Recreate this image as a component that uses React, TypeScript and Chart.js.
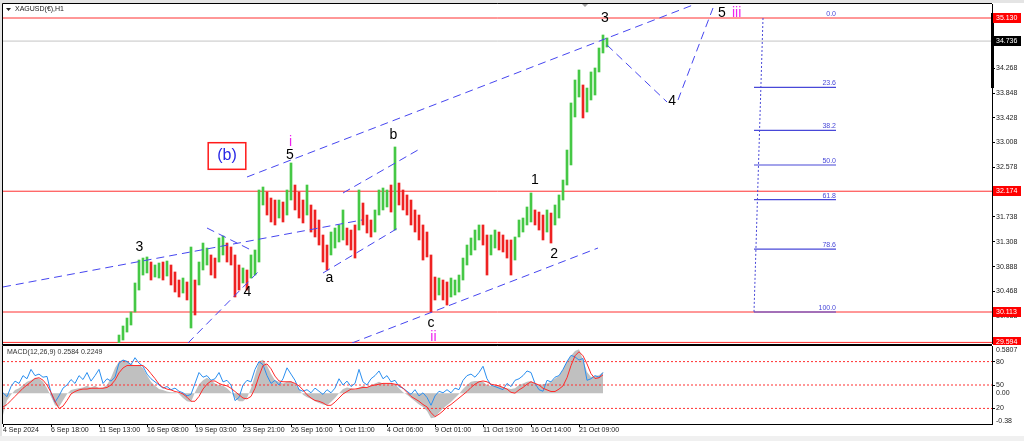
import React, { useEffect, useRef } from 'react';
import { Chart, registerables } from 'chart.js';

Chart.register(...registerables);

const FONT = '"Liberation Sans", Arial, Helvetica, sans-serif';
const UP = '#45c845';
const DOWN = '#ee2222';
const MAGENTA = '#ee22ee';
const WAVE_BLUE = '#4646f0';
const FIB_BLUE = '#4848d8';
const LEVEL_RED = '#ff3030';

const symbolTitle = 'XAGUSD(€),H1';
const macdTitle = 'MACD(12,26,9) 0.2584 0.2249';

// x axis: one slot = a group of hourly bars
const slotMax = 247.25;
const timeSlots = [0, 12, 24, 36, 48, 60, 72, 84, 96, 108, 120, 132, 144];
const timeLabels = [
  '4 Sep 2024', '6 Sep 18:00', '11 Sep 13:00', '16 Sep 08:00', '19 Sep 03:00', '23 Sep 21:00',
  '26 Sep 16:00', '1 Oct 11:00', '4 Oct 06:00', '9 Oct 01:00', '11 Oct 19:00', '16 Oct 14:00', '21 Oct 09:00',
];

// price axis
const priceMin = 29.584;
const priceMax = 35.369;
const priceTicks = [34.688, 34.268, 33.848, 33.428, 33.008, 32.578, 32.158, 31.738, 31.308, 30.888, 30.468, 30.038];
const redLevels = [35.13, 32.174, 30.113, 29.594];
const lastPrice = 34.736;

// candles (high/low per slot)
const firstCandleSlot = 29;
const candleLows = [
  29.50, 29.635, 29.771, 29.891, 30.113, 30.488, 30.744, 30.779, 30.659, 30.710,
  30.693, 30.659, 30.727, 30.574, 30.454, 30.369, 30.437, 30.318, 29.840, 30.062,
  30.574, 30.830, 30.915, 30.744, 30.693, 30.966, 31.086, 30.966, 30.915, 30.369,
  30.488, 30.608, 30.488, 30.693, 30.744, 30.966, 31.939, 31.768, 31.649, 31.598,
  31.717, 31.649, 31.768, 32.024, 31.854, 31.717, 31.632, 31.768, 31.478, 31.393,
  31.256, 30.966, 30.830, 31.086, 31.205, 31.308, 31.342, 31.256, 31.171, 31.034,
  31.512, 31.598, 31.461, 31.393, 31.478, 31.768, 31.854, 31.905, 31.819, 31.512,
  31.939, 31.854, 31.768, 31.598, 31.478, 31.342, 31.000, 31.052, 30.113, 30.318,
  30.403, 30.318, 30.232, 30.369, 30.403, 30.454, 30.659, 30.915, 31.086, 31.171,
  31.342, 31.256, 30.744, 31.086, 31.205, 31.171, 31.137, 31.034, 30.744, 31.000,
  31.393, 31.478, 31.598, 31.649, 31.598, 31.512, 31.342, 31.478, 31.290, 31.598,
  31.717, 32.024, 32.280, 32.622, 33.441, 33.782, 33.424, 33.526, 33.731, 33.816,
  34.209, 34.533, 34.635,
];
const candleHighs = [
  29.720, 29.874, 30.010, 30.113, 30.608, 31.000, 31.034, 31.052, 30.966, 30.915,
  30.949, 30.966, 30.983, 30.915, 30.796, 30.659, 30.693, 30.625, 31.222, 30.659,
  30.966, 31.290, 31.205, 31.086, 31.034, 31.376, 31.410, 31.290, 31.222, 31.086,
  30.915, 30.864, 30.830, 31.086, 31.171, 32.195, 32.246, 32.161, 32.058, 32.024,
  32.024, 31.990, 32.195, 32.656, 32.280, 32.161, 32.024, 32.280, 31.939, 31.854,
  31.683, 31.427, 31.256, 31.478, 31.546, 31.598, 31.854, 31.546, 31.512, 31.598,
  32.195, 31.973, 31.768, 31.683, 31.854, 32.195, 32.229, 32.195, 32.280, 32.929,
  32.314, 32.195, 32.110, 32.024, 31.854, 31.768, 31.598, 31.478, 31.086, 30.710,
  30.693, 30.659, 30.625, 30.693, 30.659, 30.744, 31.034, 31.256, 31.376, 31.512,
  31.598, 31.598, 31.427, 31.427, 31.512, 31.478, 31.427, 31.342, 31.342, 31.393,
  31.683, 31.717, 31.905, 32.144, 31.854, 31.819, 31.768, 31.854, 31.802, 31.939,
  32.110, 32.365, 32.877, 33.680, 34.072, 34.243, 33.987, 33.935, 34.209, 34.277,
  34.618, 34.840, 34.789,
];

// wave trend lines: [slotA, priceA, slotB, priceB]
const trendLines = [
  [0, 30.54, 89.75, 31.683],
  [61, 32.417, 172.5, 35.352],
  [87.25, 29.584, 148.75, 31.205],
  [46.25, 29.584, 64.25, 30.83],
  [51, 31.546, 62.5, 31.154],
  [80, 30.779, 98.75, 31.546],
  [85, 32.144, 103.75, 32.878],
  [151, 34.669, 166, 33.697],
  [168.75, 33.731, 177.5, 35.301],
];

// fibonacci retracement
const fibHigh = 35.13;
const fibLow = 30.113;
const fibLevels = [0, 23.6, 38.2, 50, 61.8, 78.6, 100];
const fibTopSlot = 190;
const fibBottomSlot = 187.75;
const fibEndSlot = 208.25;

// wave labels
const waveLabels = [
  { text: 'i', slot: 71.9, price: 33.019, color: MAGENTA },
  { text: '5', slot: 71.75, price: 32.792, color: '#000' },
  { text: '3', slot: 34.1, price: 31.227, color: '#000' },
  { text: '4', slot: 61.1, price: 30.449, color: '#000' },
  { text: 'a', slot: 81.6, price: 30.688, color: '#000' },
  { text: 'b', slot: 97.6, price: 33.133, color: '#000' },
  { text: 'c', slot: 107, price: 29.92, color: '#000' },
  { text: 'ii', slot: 107.6, price: 29.691, color: MAGENTA },
  { text: '1', slot: 133, price: 32.366, color: '#000' },
  { text: '2', slot: 137.8, price: 31.103, color: '#000' },
  { text: '3', slot: 150.5, price: 35.125, color: '#000' },
  { text: '4', slot: 167.3, price: 33.714, color: '#000' },
  { text: '5', slot: 179.7, price: 35.22, color: '#000' },
  { text: 'iii', slot: 183.4, price: 35.22, color: MAGENTA },
];
const boxLabel = { text: '(b)', slot1: 51.3, price1: 33.002, slot2: 60.7, price2: 32.548 };

// MACD panel
const macdMin = -0.38;
const macdMax = 0.5807;
const oscLevels = [80, 50, 20];
const macdMain = [
  -0.27, -0.09, -0.02, 0.04, 0.06, 0.10, 0.14, 0.16, 0.19, 0.18,
  0.14, 0.06, -0.04, -0.15, -0.17, -0.09, -0.01, 0.04, 0.05, 0.06,
  0.07, 0.09, 0.07, 0.09, 0.06, 0.07, 0.10, 0.19, 0.31, 0.39,
  0.41, 0.40, 0.36, 0.34, 0.35, 0.31, 0.22, 0.14, 0.09, 0.05,
  0.04, 0.02, 0.01, 0.01, -0.01, -0.06, -0.10, -0.11, 0.01, 0.11,
  0.16, 0.19, 0.16, 0.12, 0.10, 0.09, 0.06, 0.01, -0.06, -0.10,
  -0.10, -0.06, 0.06, 0.22, 0.39, 0.41, 0.34, 0.24, 0.16, 0.14,
  0.12, 0.14, 0.15, 0.11, 0.05, -0.02, -0.05, -0.07, -0.10, -0.12,
  -0.14, -0.15, -0.11, -0.06, 0.00, 0.05, 0.07, 0.06, 0.04, 0.07,
  0.09, 0.07, 0.10, 0.12, 0.14, 0.12, 0.11, 0.12, 0.11, 0.06,
  0.01, -0.02, -0.06, -0.10, -0.14, -0.17, -0.22, -0.31, -0.30, -0.24,
  -0.19, -0.15, -0.11, -0.06, -0.01, 0.05, 0.10, 0.14, 0.15, 0.15,
  0.14, 0.10, 0.09, 0.09, 0.09, 0.07, 0.06, 0.05, 0.06, 0.10,
  0.12, 0.14, 0.15, 0.12, 0.10, 0.11, 0.12, 0.14, 0.18, 0.21,
  0.29, 0.39, 0.46, 0.52, 0.54, 0.41, 0.26, 0.20, 0.21, 0.22,
  0.26,
];
const macdSignal = [
  -0.17, -0.14, -0.09, -0.04, 0.01, 0.06, 0.10, 0.14, 0.18, 0.19,
  0.16, 0.10, 0.01, -0.10, -0.19, -0.16, -0.09, -0.01, 0.02, 0.04,
  0.05, 0.05, 0.06, 0.06, 0.06, 0.06, 0.07, 0.10, 0.16, 0.25,
  0.31, 0.34, 0.34, 0.34, 0.34, 0.34, 0.30, 0.24, 0.18, 0.11,
  0.07, 0.05, 0.04, 0.02, 0.01, -0.01, -0.05, -0.10, -0.10, -0.04,
  0.05, 0.11, 0.15, 0.15, 0.12, 0.10, 0.09, 0.06, 0.02, -0.02,
  -0.06, -0.07, -0.04, 0.06, 0.21, 0.34, 0.36, 0.30, 0.21, 0.15,
  0.14, 0.14, 0.14, 0.12, 0.09, 0.04, -0.02, -0.06, -0.09, -0.10,
  -0.12, -0.15, -0.15, -0.11, -0.06, -0.01, 0.02, 0.05, 0.05, 0.06,
  0.07, 0.07, 0.09, 0.10, 0.11, 0.12, 0.12, 0.12, 0.11, 0.10,
  0.06, 0.01, -0.04, -0.07, -0.10, -0.14, -0.17, -0.24, -0.29, -0.26,
  -0.22, -0.17, -0.14, -0.10, -0.06, -0.02, 0.02, 0.07, 0.11, 0.14,
  0.15, 0.14, 0.11, 0.10, 0.09, 0.07, 0.05, 0.01, 0.00, 0.04,
  0.07, 0.11, 0.14, 0.12, 0.10, 0.06, 0.04, 0.02, 0.02, 0.05,
  0.09, 0.19, 0.34, 0.46, 0.51, 0.46, 0.36, 0.24, 0.18, 0.19,
  0.225,
];
const oscLine = [
  40, 35, 48, 55, 52, 62, 58, 70, 62, 64,
  60, 61, 40, 28, 36, 46, 50, 57, 52, 62,
  57, 66, 55, 62, 70, 52, 58, 55, 60, 78,
  82, 80, 76, 85, 78, 74, 64, 58, 54, 50,
  46, 48, 44, 46, 42, 40, 36, 38, 52, 66,
  60, 62, 56, 58, 66, 54, 56, 50, 30, 34,
  50, 56, 54, 70, 80, 76, 62, 52, 56, 50,
  58, 72, 64, 56, 44, 42, 44, 40, 46, 42,
  38, 44, 40, 46, 58, 50, 55, 48, 52, 70,
  54, 50, 58, 62, 68, 58, 62, 54, 56, 48,
  46, 42, 38, 44, 36, 40, 34, 24, 36, 42,
  40, 44, 40, 46, 44, 56, 62, 64, 60, 66,
  74, 58, 50, 48, 46, 44, 52, 48, 56, 58,
  62, 68, 66, 52, 44, 42, 56, 54, 60, 62,
  70, 80, 88, 86, 82, 84, 56, 58, 62, 60,
  66,
];

const lineDs = (pts: any[], color: string, dash: number[], order: number, extra: any = {}) => ({
  type: 'line',
  data: pts,
  borderColor: color,
  borderWidth: 1,
  borderDash: dash,
  pointRadius: 0,
  fill: false,
  tension: 0,
  order,
  ...extra,
});

const mainDecor = {
  id: 'mainDecor',
  beforeDraw(chart: any) {
    const { ctx, width, height } = chart;
    ctx.save();
    ctx.fillStyle = '#ffffff';
    ctx.fillRect(0, 0, width, height);
    ctx.fillStyle = '#e4e4e4';
    ctx.fillRect(0, 0, width, 3);
    ctx.fillRect(0, 0, 2, height);
    ctx.restore();
  },
  afterDatasetsDraw(chart: any) {
    const { ctx, chartArea: ca, scales } = chart;
    const x = scales.x;
    const y = scales.y;
    ctx.save();
    // fib labels
    ctx.font = `7px ${FONT}`;
    ctx.fillStyle = FIB_BLUE;
    ctx.textAlign = 'right';
    ctx.textBaseline = 'bottom';
    fibLevels.forEach((l) => {
      const p = fibHigh - ((fibHigh - fibLow) * l) / 100;
      ctx.fillText(l.toFixed(1), x.getPixelForValue(fibEndSlot), y.getPixelForValue(p) - 0.5);
    });
    // (b) box
    const bx1 = x.getPixelForValue(boxLabel.slot1);
    const bx2 = x.getPixelForValue(boxLabel.slot2);
    const by1 = y.getPixelForValue(boxLabel.price1);
    const by2 = y.getPixelForValue(boxLabel.price2);
    ctx.strokeStyle = '#ff1a1a';
    ctx.lineWidth = 1.5;
    ctx.strokeRect(bx1, by1, bx2 - bx1, by2 - by1);
    ctx.fillStyle = '#2828e6';
    ctx.font = `16px ${FONT}`;
    ctx.textAlign = 'center';
    ctx.textBaseline = 'middle';
    ctx.fillText(boxLabel.text, (bx1 + bx2) / 2, (by1 + by2) / 2);
    // wave labels
    ctx.font = `14px ${FONT}`;
    waveLabels.forEach((w) => {
      ctx.fillStyle = w.color;
      ctx.fillText(w.text, x.getPixelForValue(w.slot), y.getPixelForValue(w.price));
    });
    // chart shift marker
    const sx = x.getPixelForValue(145.5);
    ctx.fillStyle = '#a0a0a0';
    ctx.beginPath();
    ctx.moveTo(sx - 3, ca.top);
    ctx.lineTo(sx + 3, ca.top);
    ctx.lineTo(sx, ca.top + 3);
    ctx.closePath();
    ctx.fill();
    // header
    ctx.fillStyle = '#222';
    ctx.beginPath();
    ctx.moveTo(ca.left + 3, ca.top + 4);
    ctx.lineTo(ca.left + 8, ca.top + 4);
    ctx.lineTo(ca.left + 5.5, ca.top + 7);
    ctx.closePath();
    ctx.fill();
    ctx.font = `7px ${FONT}`;
    ctx.textAlign = 'left';
    ctx.textBaseline = 'middle';
    ctx.fillText(symbolTitle, ca.left + 12, ca.top + 5.5);
    // frame
    ctx.strokeStyle = '#000';
    ctx.lineWidth = 1;
    ctx.beginPath();
    ctx.moveTo(ca.left - 0.5, ca.bottom + 1);
    ctx.lineTo(ca.left - 0.5, ca.top - 0.5);
    ctx.lineTo(ca.right, ca.top - 0.5);
    ctx.stroke();
    ctx.beginPath();
    ctx.moveTo(ca.left - 1, ca.bottom + 1.5);
    ctx.lineTo(ca.right, ca.bottom + 1.5);
    ctx.stroke();
    ctx.restore();
  },
  afterDraw(chart: any) {
    const { ctx, chartArea: ca, scales } = chart;
    const y = scales.y;
    ctx.save();
    // bar on the price scale
    const t = y.getPixelForValue(35.215);
    const b = y.getPixelForValue(33.935);
    ctx.fillStyle = '#000';
    ctx.fillRect(ca.right - 1, t, 3, b - t);
    const boxes = [
      { v: redLevels[0], bg: '#ff0000' },
      { v: lastPrice, bg: '#000000' },
      { v: redLevels[1], bg: '#ff0000' },
      { v: redLevels[2], bg: '#ff0000' },
      { v: redLevels[3], bg: '#ff0000' },
    ];
    ctx.font = `7px ${FONT}`;
    ctx.textAlign = 'left';
    ctx.textBaseline = 'middle';
    boxes.forEach((bx) => {
      const py = Math.round(y.getPixelForValue(bx.v));
      ctx.fillStyle = bx.bg;
      ctx.fillRect(ca.right + 1, py - 5, 28, 10);
      ctx.fillStyle = '#fff';
      ctx.fillText(bx.v.toFixed(3), ca.right + 4, py + 0.5);
    });
    ctx.restore();
  },
};

const macdDecor = {
  id: 'macdDecor',
  beforeDraw(chart: any) {
    const { ctx, width, height } = chart;
    ctx.save();
    ctx.fillStyle = '#ffffff';
    ctx.fillRect(0, 0, width, height);
    ctx.fillStyle = '#e4e4e4';
    ctx.fillRect(0, 0, 2, height);
    ctx.fillStyle = '#f0f0f0';
    ctx.fillRect(0, height - 5, width, 5);
    ctx.restore();
  },
  afterDraw(chart: any) {
    const { ctx, chartArea: ca, scales } = chart;
    const yM = scales.yM;
    ctx.save();
    ctx.font = `7px ${FONT}`;
    ctx.fillStyle = '#333';
    ctx.textAlign = 'left';
    ctx.textBaseline = 'middle';
    ctx.fillText(macdTitle, ca.left + 4, ca.top + 6.5);
    ctx.fillStyle = '#222';
    ctx.fillText(macdMax.toFixed(4), ca.right + 4, yM.getPixelForValue(macdMax) + 4);
    ctx.fillText('0.00', ca.right + 4, yM.getPixelForValue(0));
    ctx.fillText(macdMin.toFixed(2), ca.right + 4, yM.getPixelForValue(macdMin) - 3);
    ctx.strokeStyle = '#000';
    ctx.lineWidth = 1;
    ctx.beginPath();
    ctx.moveTo(ca.left - 0.5, ca.bottom);
    ctx.lineTo(ca.left - 0.5, ca.top - 0.5);
    ctx.lineTo(ca.right, ca.top - 0.5);
    ctx.stroke();
    ctx.restore();
  },
};

function buildMain(canvas: HTMLCanvasElement) {
  const candleData = candleLows.map((lo, k) => ({ x: firstCandleSlot + k, y: [lo, candleHighs[k]] }));
  const candleColors = candleLows.map((lo, k) => {
    const mid = (lo + candleHighs[k]) / 2;
    const prev = k > 0 ? (candleLows[k - 1] + candleHighs[k - 1]) / 2 : mid;
    return mid >= prev ? UP : DOWN;
  });
  const datasets: any[] = [];
  trendLines.forEach((t) => {
    datasets.push(lineDs([{ x: t[0], y: t[1] }, { x: t[2], y: t[3] }], WAVE_BLUE, [8, 5], 1));
  });
  datasets.push(
    lineDs([{ x: fibTopSlot, y: fibHigh }, { x: fibBottomSlot, y: fibLow }], FIB_BLUE, [2, 2], 1)
  );
  fibLevels.filter((l) => l > 0).forEach((l) => {
    const p = fibHigh - ((fibHigh - fibLow) * l) / 100;
    datasets.push(lineDs([{ x: fibBottomSlot, y: p }, { x: fibEndSlot, y: p }], FIB_BLUE, [], 1, { borderWidth: 1.2 }));
  });
  datasets.push({
    type: 'bar',
    data: candleData,
    backgroundColor: candleColors,
    borderWidth: 0,
    barThickness: 2,
    order: 2,
  });
  redLevels.forEach((v) => {
    datasets.push(lineDs([{ x: 0, y: v }, { x: slotMax, y: v }], LEVEL_RED, [], 3));
  });
  datasets.push(lineDs([{ x: 0, y: lastPrice }, { x: slotMax, y: lastPrice }], '#c4c4c4', [], 4));

  return new Chart(canvas, {
    type: 'bar',
    data: { datasets },
    plugins: [mainDecor],
    options: {
      animation: false,
      responsive: false,
      events: [],
      layout: { padding: { left: 3, top: 4, bottom: 2, right: 0 } },
      plugins: { legend: { display: false }, tooltip: { enabled: false } },
      scales: {
        x: { type: 'linear', min: 0, max: slotMax, display: false, offset: false },
        y: {
          type: 'linear',
          position: 'right',
          min: priceMin,
          max: priceMax,
          afterBuildTicks: (s: any) => {
            s.ticks = priceTicks.map((v) => ({ value: v }));
          },
          afterFit: (s: any) => {
            s.width = 32;
            s.paddingTop = 0;
            s.paddingBottom = 0;
          },
          ticks: {
            callback: (v: any) => Number(v).toFixed(3),
            font: { family: FONT, size: 7 },
            color: '#222',
            padding: 1,
            autoSkip: false,
          },
          grid: { drawOnChartArea: false, drawTicks: true, tickLength: 3, color: '#000' },
          border: { display: true, color: '#000' },
        },
      },
    } as any,
  } as any);
}

function buildMacd(canvas: HTMLCanvasElement) {
  const pts = (arr: number[]) => arr.map((v, i) => ({ x: i, y: v }));
  const datasets: any[] = [
    lineDs(pts(macdSignal), '#ff2a2a', [], 1, { yAxisID: 'yM' }),
    lineDs(pts(oscLine), '#2b8ff0', [], 2, { yAxisID: 'yP' }),
  ];
  oscLevels.forEach((l) => {
    datasets.push(lineDs([{ x: 0, y: l }, { x: slotMax, y: l }], LEVEL_RED, [2, 2], 3, { yAxisID: 'yP' }));
  });
  datasets.push({
    type: 'line',
    data: pts(macdMain),
    yAxisID: 'yM',
    borderWidth: 0,
    borderColor: 'rgba(0,0,0,0)',
    backgroundColor: '#c0c0c0',
    fill: 'origin',
    pointRadius: 0,
    tension: 0,
    order: 5,
  });
  return new Chart(canvas, {
    type: 'line',
    data: { datasets },
    plugins: [macdDecor],
    options: {
      animation: false,
      responsive: false,
      events: [],
      layout: { padding: { left: 3, top: 1, bottom: 0, right: 0 } },
      plugins: { legend: { display: false }, tooltip: { enabled: false } },
      scales: {
        x: {
          type: 'linear',
          min: 0,
          max: slotMax,
          position: 'bottom',
          afterBuildTicks: (s: any) => {
            s.ticks = timeSlots.map((v) => ({ value: v }));
          },
          afterFit: (s: any) => {
            s.height = 17;
            s.paddingLeft = 0;
            s.paddingRight = 0;
          },
          ticks: {
            callback: (_v: any, i: number) => timeLabels[i],
            align: 'start',
            maxRotation: 0,
            autoSkip: false,
            padding: -1,
            font: { family: FONT, size: 7 },
            color: '#222',
          },
          grid: { drawOnChartArea: false, drawTicks: true, tickLength: 3, color: '#000' },
          border: { display: true, color: '#000' },
        },
        yP: {
          type: 'linear',
          position: 'right',
          min: 0,
          max: 100,
          afterBuildTicks: (s: any) => {
            s.ticks = oscLevels.map((v) => ({ value: v }));
          },
          afterFit: (s: any) => {
            s.width = 32;
            s.paddingTop = 0;
            s.paddingBottom = 0;
          },
          ticks: {
            font: { family: FONT, size: 7 },
            color: '#222',
            padding: 1,
            autoSkip: false,
          },
          grid: { drawOnChartArea: false, drawTicks: true, tickLength: 3, color: '#000' },
          border: { display: true, color: '#000' },
        },
        yM: { type: 'linear', display: false, min: macdMin, max: macdMax },
      },
    } as any,
  } as any);
}

export default function App() {
  const mainRef = useRef<HTMLCanvasElement>(null);
  const macdRef = useRef<HTMLCanvasElement>(null);
  useEffect(() => {
    const main = buildMain(mainRef.current as HTMLCanvasElement);
    const macd = buildMacd(macdRef.current as HTMLCanvasElement);
    return () => {
      main.destroy();
      macd.destroy();
    };
  }, []);
  return (
    <div
      style={{
        position: 'fixed',
        left: 0,
        top: 0,
        width: 1024,
        height: 441,
        background: '#fff',
        overflow: 'hidden',
      }}
    >
      <canvas ref={mainRef} width={1024} height={345} style={{ position: 'absolute', left: 0, top: 0, display: 'block' }} />
      <canvas ref={macdRef} width={1024} height={96} style={{ position: 'absolute', left: 0, top: 345, display: 'block' }} />
    </div>
  );
}
